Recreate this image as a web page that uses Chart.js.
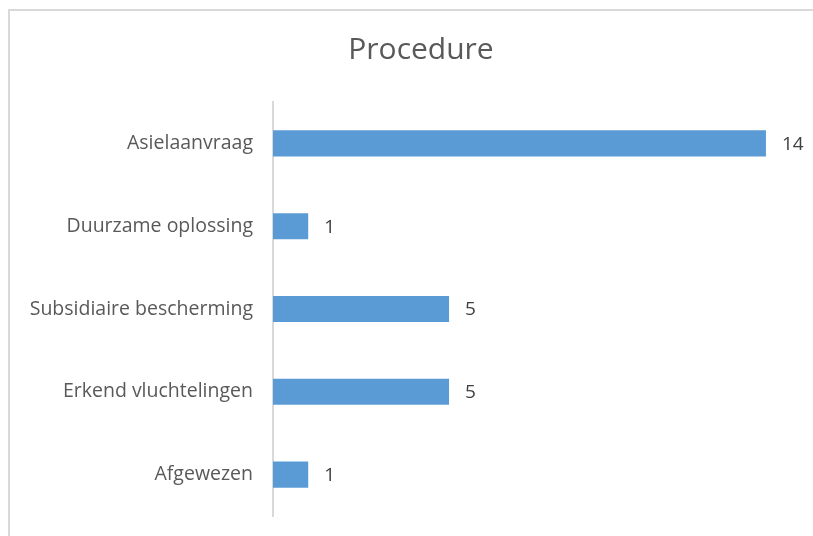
<!DOCTYPE html>
<html>
<head>
<script src="https://cdn.jsdelivr.net/npm/chart.js"></script>
<style>
  html, body { margin: 0; padding: 0; overflow: hidden; background: #fff; }
  #frame { position: absolute; left: 8px; top: 9px; width: 840px; height: 560px; border: 2px solid #d9d9d9; box-sizing: border-box; }
  #myChart { position: absolute; left: 0; top: 0; }
</style>
</head>
<body>
<div id="frame"></div>
<canvas id="myChart" width="842" height="536"></canvas>
<script>
  // categories top to bottom, as in the picture
  const categories = ['Asielaanvraag', 'Duurzame oplossing', 'Subsidiaire bescherming', 'Erkend vluchtelingen', 'Afgewezen'];
  const counts = [14, 1, 5, 5, 1];

  // value labels next to each bar end
  const valueLabels = {
    id: 'valueLabels',
    afterDatasetsDraw(chart) {
      const ctx = chart.ctx;
      const meta = chart.getDatasetMeta(0);
      ctx.save();
      ctx.font = '19px "Open Sans"';
      ctx.fillStyle = '#404040';
      ctx.textBaseline = 'middle';
      meta.data.forEach((bar, i) => {
        ctx.fillText(String(counts[i]), bar.x + 16, bar.y + 1);
      });
      ctx.restore();
    }
  };

  const ctx = document.getElementById('myChart').getContext('2d');
  const chart = new Chart(ctx, {
    type: 'bar',
    data: {
      labels: categories,
      datasets: [{
        data: counts,
        backgroundColor: '#5b9bd5',
        barPercentage: 0.63,
        categoryPercentage: 0.5
      }]
    },
    plugins: [valueLabels],
    options: {
      indexAxis: 'y',
      responsive: false,
      animation: false,
      layout: { padding: { left: 0, right: 0, top: 0, bottom: 20 } },
      plugins: {
        legend: { display: false },
        tooltip: { enabled: false },
        title: {
          display: true,
          text: 'Procedure',
          color: '#595959',
          font: { family: '"Open Sans"', size: 30, weight: 'normal' },
          padding: { top: 32, bottom: 34 }
        }
      },
      scales: {
        x: {
          display: false,
          min: 0,
          max: 16.16
        },
        y: {
          afterFit(scale) {
            scale.width = 273;
            scale.paddingTop = 0;
            scale.paddingBottom = 0;
          },
          grid: { display: false, drawTicks: false },
          border: { display: true, color: '#d9d9d9', width: 2 },
          ticks: {
            color: '#595959',
            padding: 20,
            font: { family: '"Open Sans"', size: 19.5 }
          }
        }
      }
    }
  });
</script>
</body>
</html>
